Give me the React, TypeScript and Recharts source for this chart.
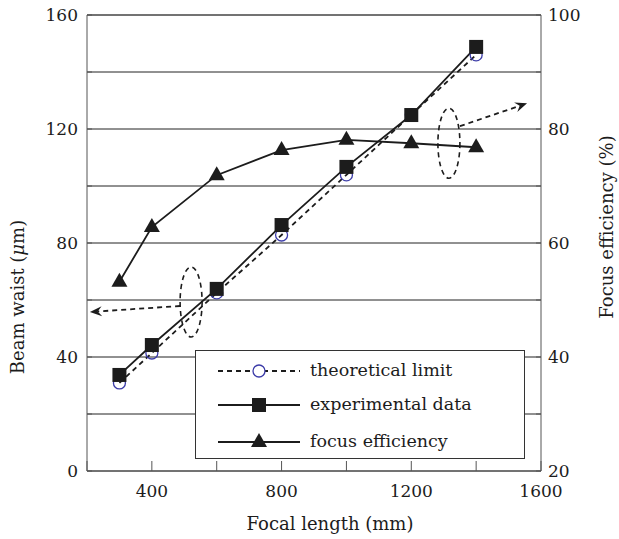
import React from 'react';
import { LineChart, Line, XAxis, YAxis, CartesianGrid, ReferenceDot, ReferenceLine } from 'recharts';

const focalLength = [300, 400, 600, 800, 1000, 1200, 1400];
const theoreticalLimit = [30.9, 41.4, 62.5, 82.8, 103.9, 125, 146];
const experimentalData = [33.7, 44.2, 63.9, 86.3, 106.7, 124.9, 148.8];
const focusEfficiency = [53.2, 62.8, 71.9, 76.3, 78.1, 77.5, 76.8];

const xTicks = [200, 400, 600, 800, 1000, 1200, 1400, 1600];
const leftTicks = [0, 20, 40, 60, 80, 100, 120, 140, 160];
const rightTicks = [20, 30, 40, 50, 60, 70, 80, 90, 100];

// annotation ellipses + arrows (data units, left axis)
const ellipseA = { x: 521, y: 59.3 };
const ellipseB = { x: 1316, y: 115 };
const arrowA = [{ x: 487, y: 57.9 }, { x: 209, y: 55.8 }];
const arrowB = [{ x: 1350, y: 121 }, { x: 1557, y: 129 }];

const data = focalLength.map((f, i) => ({
  f,
  theory: theoreticalLimit[i],
  exp: experimentalData[i],
  eff: focusEfficiency[i],
}));

const FONT = '"DejaVu Serif", serif';
const INK = '#1c1c1c';
const BLUE = '#3b3ba8';

const circleDot = (p: any) => (
  <circle key={'c' + p.index} cx={p.cx} cy={p.cy} r={6} fill="none" stroke={BLUE} strokeWidth={1.3} />
);
const squareDot = (p: any) => (
  <rect key={'s' + p.index} x={p.cx - 7} y={p.cy - 7} width={14} height={14} fill={INK} />
);
const triDot = (p: any) => (
  <polygon
    key={'t' + p.index}
    points={`${p.cx},${p.cy - 9} ${p.cx - 8},${p.cy + 5} ${p.cx + 8},${p.cy + 5}`}
    fill={INK}
  />
);

const ellipseShape = (p: any) => (
  <ellipse cx={p.cx} cy={p.cy} rx={11} ry={35} fill="none" stroke={INK} strokeWidth={1.6} strokeDasharray="5 4" />
);

const arrowShape = (p: any) => {
  const { x1, y1, x2, y2 } = p;
  const a = Math.atan2(y2 - y1, x2 - x1);
  const c = Math.cos(a), s = Math.sin(a);
  const L = 12, W = 5;
  const bx = x2 - L * c, by = y2 - L * s;
  const nx = x2 - 0.65 * L * c, ny = y2 - 0.65 * L * s;
  return (
    <g>
      <line x1={x1} y1={y1} x2={nx} y2={ny} stroke={INK} strokeWidth={1.8} strokeDasharray="5 4" />
      <polygon
        points={`${x2},${y2} ${bx - W * s},${by + W * c} ${nx},${ny} ${bx + W * s},${by - W * c}`}
        fill={INK}
      />
    </g>
  );
};

const LeftTitle = () => {
  const x = 17, y = 297;
  return (
    <text x={x} y={y} transform={`rotate(-90 ${x} ${y})`} textAnchor="middle" dominantBaseline="central"
      fontFamily={FONT} fontSize={18} fill={INK}>
      Beam waist (<tspan fontStyle="italic">μ</tspan>m)
    </text>
  );
};
const RightTitle = () => {
  const x = 606, y = 227;
  return (
    <text x={x} y={y} transform={`rotate(-90 ${x} ${y})`} textAnchor="middle" dominantBaseline="central"
      fontFamily={FONT} fontSize={18} fill={INK}>
      Focus efficiency (%)
    </text>
  );
};
const BottomTitle = (p: any) => {
  const vb = p.viewBox || { x: 87, width: 454 };
  return (
    <text x={vb.x + vb.width / 2 + 16} y={530} textAnchor="middle" fontFamily={FONT} fontSize={18} fill={INK}>
      Focal length (mm)
    </text>
  );
};

const legendRows = [
  { label: 'theoretical limit', kind: 'circle' },
  { label: 'experimental data', kind: 'square' },
  { label: 'focus efficiency', kind: 'triangle' },
];

function LegendBox() {
  const rowY = [20, 54, 91];
  return (
    <div style={{
      position: 'absolute', left: 195, top: 350, width: 328, height: 107,
      border: '1px solid #333', background: '#fff', fontFamily: FONT, fontSize: 17.5, color: INK,
    }}>
      {legendRows.map((r, i) => (
        <div key={r.label} style={{ position: 'absolute', left: 0, top: rowY[i] - 12, height: 24, width: '100%' }}>
          <svg width={90} height={24} style={{ position: 'absolute', left: 20, top: 0 }}>
            <line x1={2} y1={12} x2={84} y2={12} stroke={INK} strokeWidth={1.8}
              strokeDasharray={r.kind === 'circle' ? '5 4' : undefined} />
            {r.kind === 'circle' && <circle cx={43} cy={12} r={6} fill="#fff" stroke={BLUE} strokeWidth={1.3} />}
            {r.kind === 'square' && <rect x={36} y={5} width={14} height={14} fill={INK} />}
            {r.kind === 'triangle' && <polygon points="43,3 35,17 51,17" fill={INK} />}
          </svg>
          <span style={{ position: 'absolute', left: 114, top: 0, lineHeight: '22px', whiteSpace: 'nowrap' }}>{r.label}</span>
        </div>
      ))}
    </div>
  );
}

export default function App() {
  const tickStyle = { fill: INK, fontSize: 17, fontFamily: FONT };
  return (
    <div style={{ position: 'absolute', left: 0, top: 0, width: 619, height: 539, background: '#fff' }}>
      <LineChart width={619} height={539} data={data} margin={{ top: 15, right: 0, left: 0, bottom: 0 }}>
        <CartesianGrid horizontal vertical={false} stroke="#222" strokeWidth={1} yAxisId="left" />
        <XAxis
          dataKey="f" type="number" domain={[200, 1600]} ticks={xTicks} interval={0} height={68}
          tickSize={-10} tickMargin={24} tick={tickStyle}
          tickFormatter={(v: number) => (v % 400 === 0 ? String(v) : '')}
          axisLine={{ stroke: '#555' }} tickLine={{ stroke: '#555' }}
          label={<BottomTitle />}
        />
        <YAxis
          yAxisId="left" domain={[0, 160]} ticks={leftTicks} interval={0} width={87}
          tickSize={-5} tickMargin={14} tick={tickStyle}
          tickFormatter={(v: number) => (v % 40 === 0 ? String(v) : '')}
          axisLine={{ stroke: '#555' }} tickLine={{ stroke: '#555' }}
          label={<LeftTitle />}
        />
        <YAxis
          yAxisId="right" orientation="right" domain={[20, 100]} ticks={rightTicks} interval={0} width={78}
          tickSize={-5} tickMargin={12} tick={{ ...tickStyle, textAnchor: 'start' }}
          tickFormatter={(v: number) => (v % 20 === 0 ? String(v) : '')}
          axisLine={{ stroke: '#555' }} tickLine={{ stroke: '#555' }}
          label={<RightTitle />}
        />
        <ReferenceLine yAxisId="left" y={160} stroke="#555" />
        <ReferenceDot yAxisId="left" x={ellipseA.x} y={ellipseA.y} shape={ellipseShape} />
        <ReferenceDot yAxisId="left" x={ellipseB.x} y={ellipseB.y} shape={ellipseShape} />
        <ReferenceLine yAxisId="left" segment={arrowA} shape={arrowShape} />
        <ReferenceLine yAxisId="left" segment={arrowB} shape={arrowShape} />
        <Line yAxisId="right" dataKey="eff" stroke={INK} strokeWidth={1.8} dot={triDot} isAnimationActive={false} />
        <Line yAxisId="left" dataKey="theory" stroke={INK} strokeWidth={1.8} strokeDasharray="5 4" dot={circleDot} isAnimationActive={false} />
        <Line yAxisId="left" dataKey="exp" stroke={INK} strokeWidth={1.8} dot={squareDot} isAnimationActive={false} />
      </LineChart>
      <LegendBox />
    </div>
  );
}
